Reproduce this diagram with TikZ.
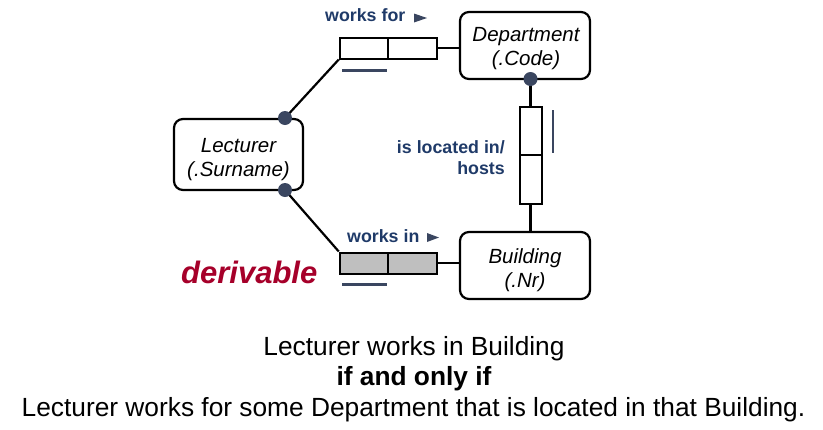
\documentclass[tikz,border=0pt]{standalone}
\usepackage{fontspec}
\setmainfont{Liberation Sans}
\definecolor{lblue}{HTML}{1F3A68}
\definecolor{dotc}{HTML}{3A4660}
\definecolor{dred}{HTML}{A6002A}
\definecolor{rgray}{HTML}{BFBFBF}
\begin{document}
\begin{tikzpicture}[x=1pt,y=-1pt,
  entity/.style={draw=black,line width=2.2pt,rounded corners=9pt,minimum width=130pt,minimum height=67pt,inner sep=0pt},
  etext/.style={align=center,font=\fontsize{20.5}{24}\selectfont\itshape,inner sep=0pt},
  rolebox/.style={draw=black,line width=2pt,minimum width=48.5pt,minimum height=21pt,inner sep=0pt},
  vrolebox/.style={draw=black,line width=2pt,minimum width=22pt,minimum height=48.5pt,inner sep=0pt},
  conn/.style={line width=2.2pt,black},
  ubar/.style={line width=2.8pt,dotc},
  mdot/.style={circle,fill=dotc,inner sep=0pt,minimum size=14pt},
  lbl/.style={font=\fontsize{17.8}{21}\selectfont\bfseries,text=lblue,inner sep=0pt},
  tri/.style={fill=dotc},
  main/.style={font=\fontsize{26.3}{30}\selectfont,inner sep=0pt}
]
\useasboundingbox (0,0) rectangle (823,429);
% entities
\node[entity] (dept) at (525,45.5) {};
\node[etext] (deptt) at (526,49) {Department\\(.Code)};
\node[entity,minimum width=129pt,minimum height=71pt] (lect) at (238.5,154.5) {};
\node[etext] (lectt) at (238.5,159.5) {Lecturer\\(.Surname)};
\node[entity] (bldg) at (525,265.5) {};
\node[etext] (bldgt) at (525,270) {Building\\(.Nr)};
% role boxes
\node[rolebox] (wf1) at (364,48) {};
\node[rolebox] (wf2) at (412.5,48) {};
\node[rolebox,fill=rgray] (wi1) at (364,263) {};
\node[rolebox,fill=rgray] (wi2) at (412.5,263) {};
\node[vrolebox] (loc1) at (530.5,131) {};
\node[vrolebox] (loc2) at (530.5,179.5) {};
% connectors
\draw[conn] (285,118) coordinate (cl1) -- (wf1.south west);
\draw[conn] (wf2.east) -- (dept.west |- wf2.east);
\draw[conn] (285,190) coordinate (cl2) -- (wi1.north west);
\draw[conn] (wi2.east) -- (bldg.west |- wi2.east);
\draw[conn] (530.5,79) coordinate (cd) -- (loc1.north);
\draw[conn] (loc2.south) -- (loc2.south |- bldg.north);
% dots
\node[mdot] (dl1) at (cl1) {};
\node[mdot] (dl2) at (cl2) {};
\node[mdot] (dd) at (cd) {};
% uniqueness bars
\coordinate (u1a) at (342,70.5);
\coordinate (u1b) at (387,70.5);
\draw[ubar] (u1a) -- (u1b);
\coordinate (u2a) at (342,284.5);
\coordinate (u2b) at (387,284.5);
\draw[ubar] (u2a) -- (u2b);
\coordinate (u3a) at (553,110);
\coordinate (u3b) at (553,153);
\draw[ubar] (u3a) -- (u3b);
% labels
\node[lbl,anchor=west] (lwf) at (325,15.5) {works for};
\fill[tri] (414,13.5) -- (427,18) -- (414,22.5) -- cycle;
\node[lbl,anchor=west] (lwi) at (347,236) {works in};
\fill[tri] (427,233) -- (439,237.5) -- (427,242) -- cycle;
\node[lbl,anchor=east,align=right] (lloc) at (505,157.5) {is located in/\\hosts};
\node[anchor=west,inner sep=0pt,font=\fontsize{31}{33}\selectfont\bfseries\itshape,text=dred] (der) at (181,272) {derivable};
% bottom text
\node[main] (t1) at (414,348.5) {Lecturer works in Building};
\node[main,font=\fontsize{26.3}{30}\selectfont\bfseries] (t2) at (414,379) {if and only if};
\node[main] (t3) at (413.5,409.5) {Lecturer works for some Department that is located in that Building.};
\end{tikzpicture}
\end{document}
